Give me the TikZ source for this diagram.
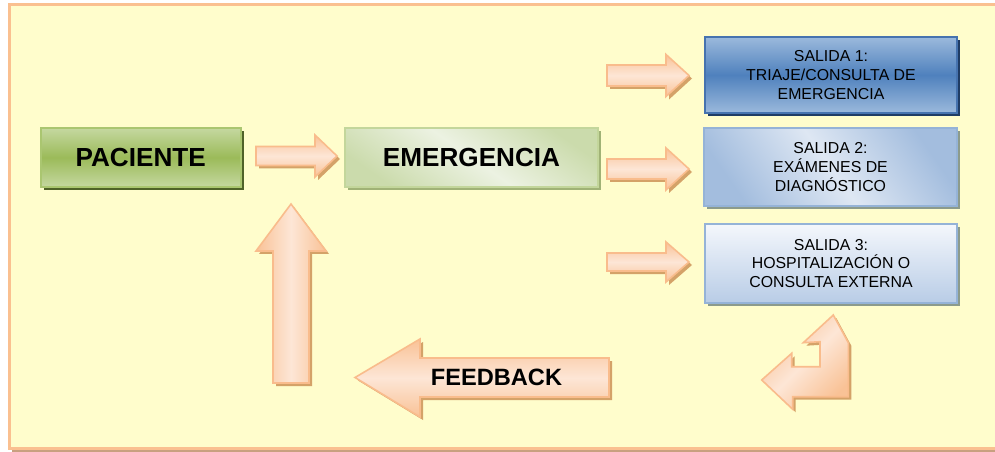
\documentclass[tikz,border=0pt]{standalone}
\usepackage{fontspec}
\setmainfont{Liberation Sans}
\usetikzlibrary{shadows}

% palette
\definecolor{bgfill}{RGB}{255,253,204}
\definecolor{bgline}{RGB}{250,192,144}
\definecolor{bgshadow}{RGB}{200,160,128}
\definecolor{arrline}{RGB}{249,188,140}
\definecolor{arrdark}{RGB}{249,194,150}
\definecolor{arrlight}{RGB}{253,230,214}
\definecolor{arrshadow}{RGB}{212,162,104}
\definecolor{grnmid}{RGB}{155,187,89}
\definecolor{grnlight}{RGB}{197,216,160}
\definecolor{grnline}{RGB}{170,198,112}
\definecolor{grnshadow}{RGB}{79,98,40}
\definecolor{emlight}{RGB}{236,242,226}
\definecolor{emdark}{RGB}{203,219,172}
\definecolor{emline}{RGB}{195,214,155}
\definecolor{emshadow}{RGB}{160,178,118}
\definecolor{bluemid}{RGB}{79,129,189}
\definecolor{bluelight}{RGB}{155,185,220}
\definecolor{blueline}{RGB}{70,115,175}
\definecolor{blueshadow}{RGB}{31,60,100}
\definecolor{palelight}{RGB}{222,231,243}
\definecolor{palemid}{RGB}{163,189,222}
\definecolor{paleline}{RGB}{149,179,215}
\definecolor{paletop}{RGB}{244,247,252}
\definecolor{palebot}{RGB}{184,204,230}
\definecolor{grayshadow}{RGB}{140,155,140}

\tikzset{
  boxbase/.style={rectangle, inner sep=0pt, align=center, line width=1.5pt},
  bigtext/.style={font=\fontsize{19.6}{22}\selectfont\bfseries},
  smalltext/.style={font=\fontsize{11.9}{14}\selectfont},
  greenbox/.style={boxbase, bigtext, top color=grnlight, bottom color=grnlight,
    middle color=grnmid, draw=grnline,
    general shadow={fill=grnshadow, shadow xshift=2.5pt, shadow yshift=-2.5pt}},
  lightgreenbox/.style={boxbase, bigtext, top color=emdark, bottom color=emdark,
    middle color=emlight, shading angle=-35, draw=emline,
    general shadow={fill=emshadow, shadow xshift=2.5pt, shadow yshift=-2.5pt}},
  darkbluebox/.style={boxbase, smalltext, top color=bluelight, bottom color=bluelight,
    middle color=bluemid, draw=blueline,
    general shadow={fill=blueshadow, shadow xshift=2.5pt, shadow yshift=-2.5pt}},
  palebluebox/.style={boxbase, smalltext, top color=palemid, bottom color=palemid,
    middle color=palelight, shading angle=-55, draw=paleline,
    general shadow={fill=grayshadow, shadow xshift=2.5pt, shadow yshift=-2.5pt}},
  whitebluebox/.style={boxbase, smalltext, top color=paletop, bottom color=palebot,
    draw=paleline,
    general shadow={fill=grayshadow, shadow xshift=2.5pt, shadow yshift=-2.5pt}},
  arrbody/.style={draw=arrline, line width=1.2pt, line join=miter},
  arrshade/.style={fill=arrshadow},
}

% right-pointing block arrow: x start, x head base, x tip, y centre, shaft half, head half
\newcommand\rightblock[6]{%
  \fill[arrshade, shift={(3,3)}] (#1,#4-#5) -- (#2,#4-#5) -- (#2,#4-#6) -- (#3,#4)
    -- (#2,#4+#6) -- (#2,#4+#5) -- (#1,#4+#5) -- cycle;
  \shade[arrbody, top color=arrdark, bottom color=arrdark, middle color=arrlight]
    (#1,#4-#5) -- (#2,#4-#5) -- (#2,#4-#6) -- (#3,#4)
    -- (#2,#4+#6) -- (#2,#4+#5) -- (#1,#4+#5) -- cycle;}

\begin{document}
\begin{tikzpicture}[x=0.75pt, y=-0.75pt]
\useasboundingbox (0,0) rectangle (995,452);

% background panel with its shadow
\fill[bgshadow] (12,8) rectangle (1000,452);
\filldraw[fill=bgfill, draw=bgline, line width=2.25pt] (9.5,4.5) rectangle (1000,448);

% process boxes
\node[greenbox, minimum width=150pt, minimum height=44.25pt] (paciente) at (140.7,157.5) {PACIENTE};
\node[lightgreenbox, minimum width=189.75pt, minimum height=44.25pt] (emergencia) at (471.5,157.5) {EMERGENCIA};
\node[darkbluebox, minimum width=189pt, minimum height=57pt] (salida1) at (831,75)
  {SALIDA 1:\\TRIAJE/CONSULTA DE\\EMERGENCIA};
\node[palebluebox, minimum width=189.75pt, minimum height=58.5pt] (salida2) at (830.5,167)
  {SALIDA 2:\\EXÁMENES DE\\DIAGNÓSTICO};
\node[whitebluebox, minimum width=189pt, minimum height=59.25pt] (salida3) at (831,263.5)
  {SALIDA 3:\\HOSPITALIZACIÓN O\\CONSULTA EXTERNA};

% forward block arrows
\rightblock{256}{315}{337}{156}{9.5}{21}
\rightblock{607}{666}{689}{75.5}{10.5}{21}
\rightblock{607}{666}{689}{169}{10}{21}
\rightblock{607}{666}{689}{262}{9}{20}

% upward return arrow towards EMERGENCIA
\fill[arrshade, shift={(3,3)}] (273,383) -- (273,251) -- (256,251) -- (291,204)
  -- (326,251) -- (309,251) -- (309,383) -- cycle;
\shade[arrbody, left color=arrdark, right color=arrdark, middle color=arrlight]
  (273,383) -- (273,251) -- (256,251) -- (291,204)
  -- (326,251) -- (309,251) -- (309,383) -- cycle;

% feedback arrow
\fill[arrshade, shift={(3,3)}] (609,358) -- (420,358) -- (420,339) -- (355,377.5)
  -- (420,417) -- (420,397) -- (609,397) -- cycle;
\shade[arrbody, top color=arrdark, bottom color=arrdark, middle color=arrlight]
  (609,358) -- (420,358) -- (420,339) -- (355,377.5)
  -- (420,417) -- (420,397) -- (609,397) -- cycle;
\node[bigtext, font=\fontsize{17.7}{20}\selectfont\bfseries] (feedback) at (496.5,377.5) {FEEDBACK};

% bent arrow leaving the outputs
\fill[arrshade, shift={(3,3)}] (848.3,342.7) -- (833.3,315) -- (803.3,342.7) -- (820,341.7)
  -- (820,366.7) -- (791.7,366.7) -- (791.7,353.3) -- (761.7,380) -- (792.7,409.3)
  -- (792.7,396.7) -- (848.3,396.7) -- cycle;
\shade[arrbody, top color=arrdark, bottom color=arrdark, middle color=arrlight, shading angle=45]
  (848.3,342.7) -- (833.3,315) -- (803.3,342.7) -- (820,341.7)
  -- (820,366.7) -- (791.7,366.7) -- (791.7,353.3) -- (761.7,380) -- (792.7,409.3)
  -- (792.7,396.7) -- (848.3,396.7) -- cycle;
\end{tikzpicture}
\end{document}
